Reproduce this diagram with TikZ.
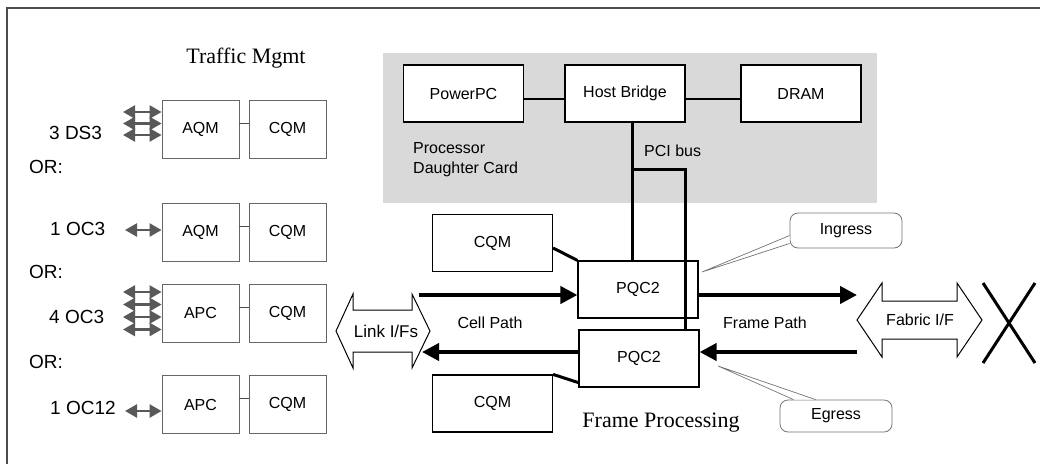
\documentclass[tikz,border=0pt]{standalone}
\usepackage{fontspec}
\setmainfont{Liberation Serif}
\setsansfont{Liberation Sans}
\usetikzlibrary{arrows.meta,calc}
\begin{document}
\begin{tikzpicture}[x=1pt,y=-1pt,
 lbox/.style={draw=black!60, line width=0.8pt, minimum width=77pt, minimum height=58pt, inner sep=0pt, font=\sffamily\fontsize{16}{19}\selectfont},
 cbox/.style={draw=black, line width=1.2pt, fill=white, minimum width=120pt, minimum height=57pt, inner sep=0pt, font=\sffamily\fontsize{16}{19}\selectfont},
 side/.style={anchor=west, inner sep=0pt, font=\sffamily\fontsize{19}{22}\selectfont},
 ttl/.style={inner sep=0pt, font=\rmfamily\fontsize{22}{26}\selectfont},
 lbl/.style={inner sep=0pt, font=\sffamily\fontsize{16}{19}\selectfont},
 thinlink/.style={draw=black!70, line width=0.8pt},
 garrow/.style={draw=black!65, line width=2.4pt, {Triangle[length=12pt,width=13pt]}-{Triangle[length=12pt,width=13pt]}},
 fat/.style={line width=4pt, -{Triangle[length=17pt,width=17pt]}},
 bus/.style={line width=3pt},
 blockarr/.style={draw=black, line width=1pt, fill=white, line join=miter},
 callbox/.style={draw=black!55, line width=0.8pt, rounded corners=8pt, fill=white, inner sep=0pt, font=\sffamily\fontsize{16}{19}\selectfont},
 wedge/.style={draw=black!55, line width=0.7pt}
]
\useasboundingbox (0,0) rectangle (1040,464);
% frame
\draw[black!70, line width=1.2pt] (7,464) -- (7,8) -- (1040,8);

% titles
\node[ttl] (tm) at (246,58) {Traffic Mgmt};
\node[ttl] (fpr) at (661,423) {Frame Processing};

% left column
\node[lbox] (a1) at (200.5,129) {AQM};
\node[lbox] (c1) at (287.5,129) {CQM};
\node[lbox] (a2) at (200.5,232.5) {AQM};
\node[lbox] (c2) at (287.5,232.5) {CQM};
\node[lbox] (a3) at (200.5,313) {APC};
\node[lbox] (c3) at (287.5,313) {CQM};
\node[lbox] (a4) at (200.5,404.5) {APC};
\node[lbox] (c4) at (287.5,404.5) {CQM};
\foreach \i in {1,2,3,4}{
  \draw[thinlink] ([yshift=6pt]a\i.east) -- ([yshift=6pt]c\i.west);
}

\node[side] (l1) at (49,133) {3 DS3};
\node[side] (o1) at (29,167) {OR:};
\node[side] (l2) at (50,229) {1 OC3};
\node[side] (o2) at (29,272) {OR:};
\node[side] (l3) at (49,317) {4 OC3};
\node[side] (o3) at (29,362) {OR:};
\node[side] (l4) at (50,408) {1 OC12};

% grey interface arrows
\foreach \n/\y in {s11/112, s12/123.5, s13/135}{
  \coordinate (\n) at (123,\y);
  \draw[garrow] (\n) -- (\n -| a1.west);
}
\coordinate (s21) at (125,230);
\draw[garrow] (s21) -- (s21 -| a2.west);
\foreach \n/\y in {s31/292, s32/304.5, s33/317, s34/329.5}{
  \coordinate (\n) at (123,\y);
  \draw[garrow] (\n) -- (\n -| a3.west);
}
\coordinate (s41) at (125,411);
\draw[garrow] (s41) -- (s41 -| a4.west);

% processor daughter card
\fill[black!15] (383,53) rectangle (877,203);
\node[cbox] (ppc) at (463.5,93.5) {PowerPC};
\node[cbox] (hb) at (625,93.5) {Host Bridge};
\node[cbox] (dram) at (801,93.5) {DRAM};
\draw[line width=1.2pt] ([yshift=-5.5pt]ppc.east) -- ([yshift=-5.5pt]hb.west);
\draw[line width=1.2pt] ([yshift=-5.5pt]hb.east) -- ([yshift=-5.5pt]dram.west);
\node[lbl, anchor=north west, align=left, font=\sffamily\fontsize{16}{20}\selectfont] (pdc) at (413,142) {Processor\\Daughter Card};
\node[lbl, anchor=west] (pci) at (644,151) {PCI bus};

% frame processing boxes
\node[cbox] (q1) at (492.5,243) {CQM};
\node[cbox] (q2) at (492.5,403.5) {CQM};
\node[cbox] (p1) at (638,289.5) {PQC2};
\node[cbox] (p2) at (639,358.5) {PQC2};

% PCI bus lines
\coordinate (bx) at (632,169);
\coordinate (by) at (685,169);
\draw[bus] (hb.south -| bx) -- (p1.north -| bx);
\draw[bus, line join=miter] (bx) -- (by) -- (p2.north -| by);

% CQM to PQC2
\draw[bus] (q1.east |- 0,248) -- (p1.north west);
\draw[bus] (q2.north east) -- ([yshift=5pt]p2.south west);

% cell path / frame path arrows
\coordinate (cp1) at (419,295);
\coordinate (cp2) at (422,352);
\coordinate (fp1) at (857,295);
\coordinate (fp2) at (857,352);
\draw[fat] (cp1) -- (cp1 -| p1.west);
\draw[fat] (p2.west |- cp2) -- (cp2);
\draw[fat] (p1.east |- fp1) -- (fp1);
\draw[fat] (fp2) -- (fp2 -| p2.east);
\node[lbl] (cpl) at (490,323) {Cell Path};
\node[lbl] (fpl) at (765,323) {Frame Path};

% block arrows
\draw[blockarr] (336,331) -- (353,294) -- (353,310) -- (412,310) -- (412,294) -- (430,331) -- (412,368) -- (412,352) -- (353,352) -- (353,368) -- cycle;
\node[lbl, font=\sffamily\fontsize{17}{20}\selectfont] (link) at (386,331) {Link I/Fs};
\draw[blockarr] (857,320) -- (882,283) -- (882,301) -- (957,301) -- (957,283) -- (982,320) -- (957,357) -- (957,339) -- (882,339) -- (882,357) -- cycle;
\node[lbl] (fab) at (920,320) {Fabric I/F};

% switch fabric X
\draw[line width=3pt] (983,283) -- (1035,363);
\draw[line width=3pt] (1035,283) -- (983,363);

% callouts
\node[callbox, minimum width=112pt, minimum height=35pt] (ing) at (846,230.5) {Ingress};
\coordinate (ingtip) at (702,272);
\fill[white] ([yshift=-5pt]ing.west) -- (ingtip) -- ([yshift=-13pt]ing.west) -- cycle;
\draw[wedge] ([yshift=-5pt]ing.west) -- (ingtip) -- ([yshift=-13pt]ing.west);

\node[callbox, minimum width=112pt, minimum height=32pt] (eg) at (836,416) {Egress};
\coordinate (egtip) at (718,366);
\fill[white] ([xshift=14pt]eg.north west) -- (egtip) -- ([xshift=36pt]eg.north west) -- cycle;
\draw[wedge] ([xshift=14pt]eg.north west) -- (egtip) -- ([xshift=36pt]eg.north west);
\end{tikzpicture}
\end{document}
